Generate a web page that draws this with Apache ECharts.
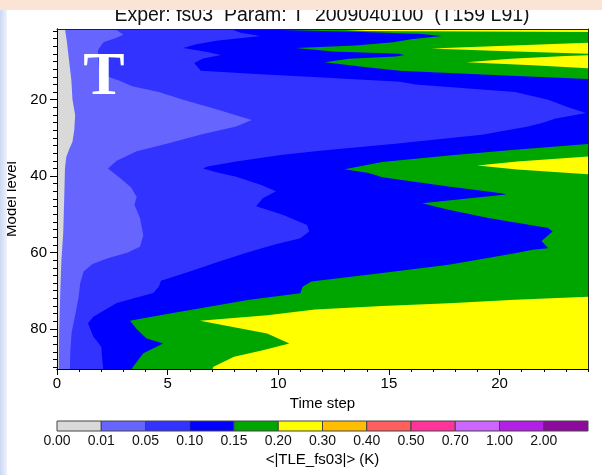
<!DOCTYPE html>
<html><head><meta charset="utf-8">
<script src="https://cdn.jsdelivr.net/npm/echarts@6/dist/echarts.min.js"></script>
<style>html,body{margin:0;padding:0;background:#fff}#c{width:602px;height:475px}</style>
</head><body><div id="c"></div>
<script>
// ---- data ----
const thresholdLabels = ['0.00','0.01','0.05','0.10','0.15','0.20','0.30','0.40','0.50','0.70','1.00','2.00'];
const bandColors = ['#d9d9d9','#6666ff','#3333ff','#0000ff','#00a600','#ffff00','#ffbf00','#ff5f5f','#ff3399','#cc66ff','#b31fe5','#8c0a9c'];
const timeTicks = [0,5,10,15,20];
const timeMinorTicks = [0,1,2,3,4,5,6,7,8,9,10,11,12,13,14,15,16,17,18,19,20,21,22,23,24];
const levelTicks = [20,40,60,80];
const levelMinorTicks = [2,4,6,8,10,12,14,16,18,20,22,24,26,28,30,32,34,36,38,40,42,44,46,48,50,52,54,56,58,60,62,64,66,68,70,72,74,76,78,80,82,84,86,88,90];
const timeRange = [0, 24];
const levelRange = [1.5, 90.5];
// contour lines: [model level, time step]
const contour001 = [[1,0.35],[5,0.45],[10,0.55],[15,0.65],[20,0.7],[24,0.82],[28,0.78],[31,0.7],[33,0.55],[35,0.42],[38,0.36],[45,0.33],[55,0.28],[62,0.2],[70,0.15],[80,0.1],[91,0.08]];
const contour005 = [[1,2.5],[3,3.0],[4,2.6],[5,2.1],[7,1.85],[12,1.9],[14,2.3],[15,2.8],[16.5,3.4],[18,4.6],[20,5.7],[22.5,7.2],[25.3,8.8],[27,8.1],[29,6.6],[31.5,5.0],[33.5,3.6],[36,2.7],[38,2.3],[40.5,2.85],[43,3.35],[45.5,3.6],[47.5,3.5],[51,3.75],[55.5,3.9],[58.5,3.75],[60,3.2],[61.5,2.3],[63,1.6],[65,1.2],[68,1.05],[72,0.97],[77,0.8],[81,0.66],[86,0.6],[91,0.58]];
const contour010 = [[1,7.9],[1.6,7.9],[2.5,8.3],[3.3,9.2],[4.6,7.2],[5.5,6.3],[6.5,5.7],[7.5,6.8],[8.3,7.4],[9.2,6.6],[10.4,6.2],[12.4,6.5],[13.3,9.0],[14.2,12.0],[15.3,15.5],[16,16.2],[18,20.7],[20,22.2],[22,23.1],[23.5,23.9],[25,22.5],[26,22.0],[27,21.3],[29.2,19.2],[31.5,15.4],[33.3,12],[34.4,10.2],[36.2,8.1],[37.5,6.8],[38,6.6],[39,7.2],[40.2,8.1],[42.3,9.2],[44,9.9],[45.8,9.3],[47.9,9.0],[50.1,10.2],[52.8,11.3],[54.5,11.4],[56.3,11.0],[58,9.8],[60,8.6],[62.4,7.3],[65,6.0],[67.4,4.7],[69,4.6],[70.6,4.35],[73.2,2.7],[76.8,1.64],[78.5,1.4],[82,1.64],[84.7,2.0],[88.2,2.05],[91,2.1]];
const contour015 = [[1,8.9],[1.6,9.2],[2.2,13.5],[2.8,16.5],[3.3,17.4],[4.2,16.0],[5.0,15.2],[5.8,13.5],[6.5,10.8],[7.4,12.5],[8.0,15.5],[8.4,15.7],[8.7,15.3],[9.3,13.2],[10.2,12.1],[11.5,14.0],[12.4,15.5],[13.5,19.5],[14.6,24],[15,24.3],[31.5,24.3],[31.6,24],[33.1,20.7],[34.6,17.7],[36.3,14.7],[38.2,13.0],[39.2,14.1],[40.3,14.7],[42.7,17.7],[44.5,20.1],[44.8,20.3],[47.1,16.5],[48.8,17.7],[51,19.5],[53.6,22.2],[54.5,22.4],[57,21.9],[58.9,22.2],[59.3,21.5],[60.2,20.7],[61.5,19.4],[63.2,17.7],[65.4,14.7],[67.6,11.5],[69,11.1],[70.7,11.0],[72.4,8.7],[75.4,5.7],[76.7,4.4],[77.9,3.3],[80,3.6],[82.5,4.05],[83.8,4.8],[86.4,3.9],[91,3.3]];
const contour020 = [[1,12.0],[1.6,12.5],[2.0,14],[2.3,24.3],[4.9,24.3],[5.1,24],[5.6,21.5],[6.6,16.9],[7.2,19.7],[8.0,24],[8.3,24.3],[8.6,23.0],[9.3,20.5],[10.2,18.5],[11.0,21.5],[11.8,24],[12.2,24.3],[34.7,24.3],[34.9,24],[36.2,20.8],[37.2,19.0],[38.3,20.8],[39.5,24],[39.7,24.3],[71.4,24.3],[71.6,24],[72.4,20.7],[73.3,17.7],[74.0,14.7],[74.9,11.66],[76.4,9.5],[77.9,6.46],[81.2,9.5],[83.8,10.5],[85.6,9.3],[87.3,8.0],[89.9,7.07],[91,7.0]];

// ---- chart ----
const FONT = '"Liberation Sans", Arial, sans-serif';
const chart = echarts.init(document.getElementById('c'), null, {renderer: 'canvas'});

function bandSeries(contour, color) {
  return {
    type: 'custom', xAxisIndex: 0, yAxisIndex: 0, clip: true, silent: true, data: [[0, 0]],
    renderItem: function (params, api) {
      const pts = [[timeRange[0], contour[0][0]]]
        .concat(contour.map(p => [p[1], p[0]]))
        .concat([[timeRange[0], contour[contour.length - 1][0]]]);
      return { type: 'polygon', shape: { points: pts.map(p => api.coord(p)) }, style: { fill: color, stroke: null } };
    }
  };
}
// lowest-drawn band, attached to the minor-tick axes so that those axes are not blank
function fullBand(color) {
  return {
    type: 'custom', xAxisIndex: 1, yAxisIndex: 1, clip: true, silent: true, data: [[timeRange[0], levelRange[0]]],
    renderItem: function (params, api) {
      const a = api.coord([timeRange[0], levelRange[0]]);
      const b = api.coord([timeRange[1], levelRange[1]]);
      return { type: 'rect', shape: { x: a[0], y: a[1], width: b[0] - a[0], height: b[1] - a[1] }, style: { fill: color } };
    }
  };
}

const axisText = { color: '#000', fontSize: 15, fontFamily: FONT };
const option = {
  animation: false,
  textStyle: { fontFamily: FONT },
  grid: [
    { left: 57, right: 14, top: 29, bottom: 106, outerBoundsMode: 'none', containLabel: false },
    { left: 57, right: 14, top: 421, height: 10, outerBoundsMode: 'none', containLabel: false }
  ],
  xAxis: [
    { gridIndex: 0, type: 'value', min: timeRange[0], max: timeRange[1], position: 'bottom', z: 10,
      axisLine: { show: true, onZero: false, lineStyle: { color: '#000', width: 1 } },
      axisTick: { show: true, customValues: timeTicks, length: 6, lineStyle: { color: '#000' } },
      axisLabel: Object.assign({ customValues: timeTicks, margin: 7 }, axisText),
      splitLine: { show: false },
      name: 'Time step', nameLocation: 'middle', nameGap: 27, nameTextStyle: axisText },
    { gridIndex: 0, type: 'value', min: timeRange[0], max: timeRange[1], position: 'bottom', z: 10,
      axisLine: { show: true, onZero: false, lineStyle: { color: '#000', width: 1 } },
      axisTick: { show: true, customValues: timeMinorTicks, length: 3, lineStyle: { color: '#000' } },
      axisLabel: { show: false }, splitLine: { show: false } },
    { gridIndex: 0, type: 'value', min: timeRange[0], max: timeRange[1], position: 'top', z: 10,
      axisLine: { show: true, onZero: false, lineStyle: { color: '#222', width: 1 } },
      axisTick: { show: false }, axisLabel: { show: false }, splitLine: { show: false } },
    { gridIndex: 1, type: 'value', min: 0, max: thresholdLabels.length, z: 10,
      axisLine: { show: false }, axisTick: { show: false }, splitLine: { show: false },
      axisLabel: { customValues: thresholdLabels.map((s, i) => i), margin: 3, color: '#111', fontSize: 14, fontFamily: FONT,
        formatter: v => thresholdLabels[v] },
      name: '<|TLE_fs03|> (K)', nameLocation: 'middle', nameGap: 21, nameTextStyle: axisText }
  ],
  yAxis: [
    { gridIndex: 0, type: 'value', inverse: true, min: levelRange[0], max: levelRange[1], position: 'left', z: 10,
      axisLine: { show: true, onZero: false, lineStyle: { color: '#000', width: 1 } },
      axisTick: { show: true, customValues: levelTicks, length: 7, lineStyle: { color: '#000' } },
      axisLabel: Object.assign({ customValues: levelTicks, margin: 10 }, axisText),
      splitLine: { show: false },
      name: 'Model level', nameLocation: 'middle', nameGap: 36, nameTextStyle: axisText },
    { gridIndex: 0, type: 'value', inverse: true, min: levelRange[0], max: levelRange[1], position: 'left', z: 10,
      axisLine: { show: true, onZero: false, lineStyle: { color: '#000', width: 1 } },
      axisTick: { show: true, customValues: levelMinorTicks, length: 4, lineStyle: { color: '#000' } },
      axisLabel: { show: false }, splitLine: { show: false } },
    { gridIndex: 0, type: 'value', inverse: true, min: levelRange[0], max: levelRange[1], position: 'right', z: 10,
      axisLine: { show: true, onZero: false, lineStyle: { color: '#222', width: 1 } },
      axisTick: { show: false }, axisLabel: { show: false }, splitLine: { show: false } },
    { gridIndex: 1, type: 'value', min: 0, max: 1, show: false }
  ],
  series: [
    fullBand(bandColors[5]),
    bandSeries(contour020, bandColors[4]),
    bandSeries(contour015, bandColors[3]),
    bandSeries(contour010, bandColors[2]),
    bandSeries(contour005, bandColors[1]),
    bandSeries(contour001, bandColors[0]),
    { type: 'custom', xAxisIndex: 3, yAxisIndex: 3, silent: true,
      data: bandColors.map((c, i) => [i, 0]),
      renderItem: function (params, api) {
        const i = api.value(0);
        const a = api.coord([i, 1]);
        const b = api.coord([i + 1, 0]);
        return { type: 'rect', shape: { x: a[0], y: a[1], width: b[0] - a[0], height: b[1] - a[1] },
          style: { fill: bandColors[i], stroke: '#444', lineWidth: 1 } };
      } }
  ],
  graphic: [
    { type: 'text', z: 100, style: { text: 'Exper: fs03  Param: T  2009040100  (T159 L91)', x: 322, y: 15.5,
      align: 'center', verticalAlign: 'middle', font: '19.5px ' + FONT, fill: '#111' } },
    { type: 'text', z: 100, style: { text: 'T', x: 104, y: 78, align: 'center', verticalAlign: 'middle',
      font: 'bold 62px "Liberation Serif", "Times New Roman", serif', fill: '#ffffff' } },
    { type: 'rect', z: 101, shape: { x: 0, y: 0, width: 602, height: 10 }, style: { fill: '#fbe4d6' } },
    { type: 'rect', z: 101, shape: { x: 0, y: 10, width: 7, height: 465 },
      style: { fill: new echarts.graphic.LinearGradient(0, 0, 1, 0, [{ offset: 0, color: '#cbd8f3' }, { offset: 1, color: '#eef2fb' }]) } }
  ]
};
chart.setOption(option);
</script>
</body></html>
